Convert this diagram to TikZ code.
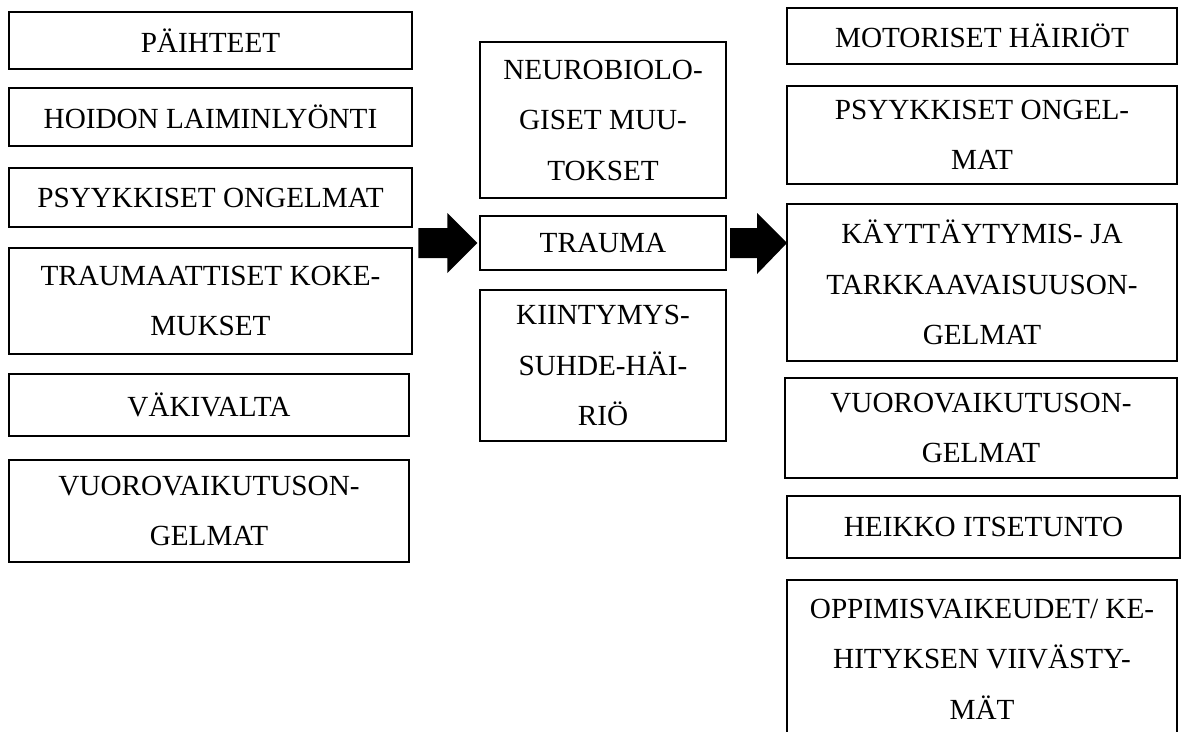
\documentclass[tikz,border=0pt]{standalone}
\usepackage{fontspec}
\setmainfont{Liberation Serif}
\begin{document}
\begin{tikzpicture}[x=1pt,y=-1pt,
  box/.style={draw=black, line width=1.2pt, inner sep=0pt, align=center,
    font=\fontsize{29.2}{50.5}\selectfont},
  blockarrow/.style={fill=black, draw=none}]
\useasboundingbox (0,0) rectangle (1182,731);
% left column
\node[box, minimum width=403, minimum height=57] (paih) at (210.5,40.5) {PÄIHTEET};
\node[box, minimum width=403, minimum height=58] (hoid) at (210.5,117) {HOIDON LAIMINLYÖNTI};
\node[box, minimum width=403, minimum height=59] (psyl) at (210.5,197.5) {PSYYKKISET ONGELMAT};
\node[box, minimum width=403, minimum height=106] (trau) at (210.5,301) {TRAUMAATTISET KOKE-\\MUKSET};
\node[box, minimum width=400, minimum height=62] (vaki) at (209,405) {VÄKIVALTA};
\node[box, minimum width=400, minimum height=102] (vuol) at (209,511) {VUOROVAIKUTUSON-\\GELMAT};
% middle column
\node[box, minimum width=246, minimum height=156] (neuro) at (603,120) {NEUROBIOLO-\\GISET MUU-\\TOKSET};
\node[box, minimum width=246, minimum height=54] (trauma) at (603,243) {TRAUMA};
\node[box, minimum width=246, minimum height=151] (kiin) at (603,365.5) {KIINTYMYS-\\SUHDE-HÄI-\\RIÖ};
% right column
\node[box, minimum width=390, minimum height=56] (moto) at (982,36) {MOTORISET HÄIRIÖT};
\node[box, minimum width=390, minimum height=98] (psyr) at (982,135) {PSYYKKISET ONGEL-\\MAT};
\node[box, minimum width=390, minimum height=157] (kayt) at (982,282.5) {KÄYTTÄYTYMIS- JA\\TARKKAAVAISUUSON-\\GELMAT};
\node[box, minimum width=392, minimum height=100] (vuor) at (981,428) {VUOROVAIKUTUSON-\\GELMAT};
\node[box, minimum width=393, minimum height=62] (heik) at (983.5,527) {HEIKKO ITSETUNTO};
\node[box, minimum width=390, minimum height=158] (oppi) at (982,659) {OPPIMISVAIKEUDET/ KE-\\HITYKSEN VIIVÄSTY-\\MÄT};
% block arrows
\coordinate (ltip) at ([xshift=-2pt]trauma.west);
\fill[blockarrow] (ltip) ++(-59,-15) -- ++(29,0) -- ++(0,-15) -- (ltip) -- ++(-30,30) -- ++(0,-15) -- ++(-29,0) -- cycle;
\coordinate (rtip) at (787,243);
\fill[blockarrow] (rtip) ++(-57,-15) -- ++(27,0) -- ++(0,-15) -- (rtip) -- ++(-30,31) -- ++(0,-16) -- ++(-27,0) -- cycle;
\end{tikzpicture}
\end{document}
